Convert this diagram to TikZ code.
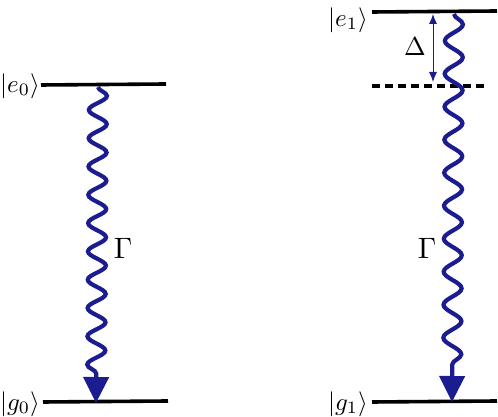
\documentclass[tikz,border=0pt]{standalone}
\usetikzlibrary{decorations.pathmorphing,arrows.meta}
\definecolor{wave}{RGB}{28,28,145}
\newcommand{\ketlbl}[1]{\scalebox{2.5}{$#1$}}
\newcommand{\ratelbl}[1]{\scalebox{2.95}{$#1$}}
\tikzset{
  level/.style={line width=3.6pt,black},
  dlevel/.style={line width=3.6pt,black,dash pattern=on 8pt off 5pt},
  ket/.style={inner sep=0pt},
  rate/.style={inner sep=0pt},
  wavy/.style={line width=4.2pt,wave,
    -{Triangle[length=26pt,width=25pt]},
    decorate,decoration={snake,amplitude=9pt,segment length=#1,post length=28pt}},
  detune/.style={line width=0.9pt,wave,{Latex[length=10pt,width=8pt]}-{Latex[length=10pt,width=8pt]}}
}
\begin{document}
\begin{tikzpicture}[x=1pt,y=1pt]
\useasboundingbox (0,0) rectangle (498,417);
% left system
\coordinate (e0l) at (41,332);
\coordinate (e0r) at (166,333);
\coordinate (g0l) at (43,15);
\coordinate (g0r) at (168,16);
\draw[level] (e0l) -- (e0r);
\draw[level] (g0l) -- (g0r);
\node[ket] (ke0) at (20,331) {\ketlbl{|e_0\rangle}};
\node[ket] (kg0) at (20,13) {\ketlbl{|g_0\rangle}};
\coordinate (w0s) at (98,330);
\coordinate (w0e) at (96,14);
\draw[wavy=28.3pt] (w0s) -- (w0e);
\node[rate] (G0) at (123,169) {\ratelbl{\Gamma}};
% right system
\coordinate (e1l) at (372,405);
\coordinate (e1r) at (497,406);
\coordinate (vl) at (372,331);
\coordinate (vr) at (488,331);
\coordinate (g1l) at (372,15);
\coordinate (g1r) at (497,16);
\draw[level] (e1l) -- (e1r);
\draw[dlevel] (vl) -- (vr);
\draw[level] (g1l) -- (g1r);
\node[ket] (ke1) at (348,397) {\ketlbl{|e_1\rangle}};
\node[ket] (kg1) at (348,13) {\ketlbl{|g_1\rangle}};
\coordinate (ds) at (433,403);
\coordinate (de) at (433,335);
\draw[detune] (ds) -- (de);
\node[inner sep=0pt] (D) at (415,370) {\scalebox{2.6}{$\Delta$}};
\coordinate (w1s) at (454,403);
\coordinate (w1e) at (452,15);
\draw[wavy=33pt] (w1s) -- (w1e);
\node[rate] (G1) at (427,169) {\ratelbl{\Gamma}};
\end{tikzpicture}
\end{document}
